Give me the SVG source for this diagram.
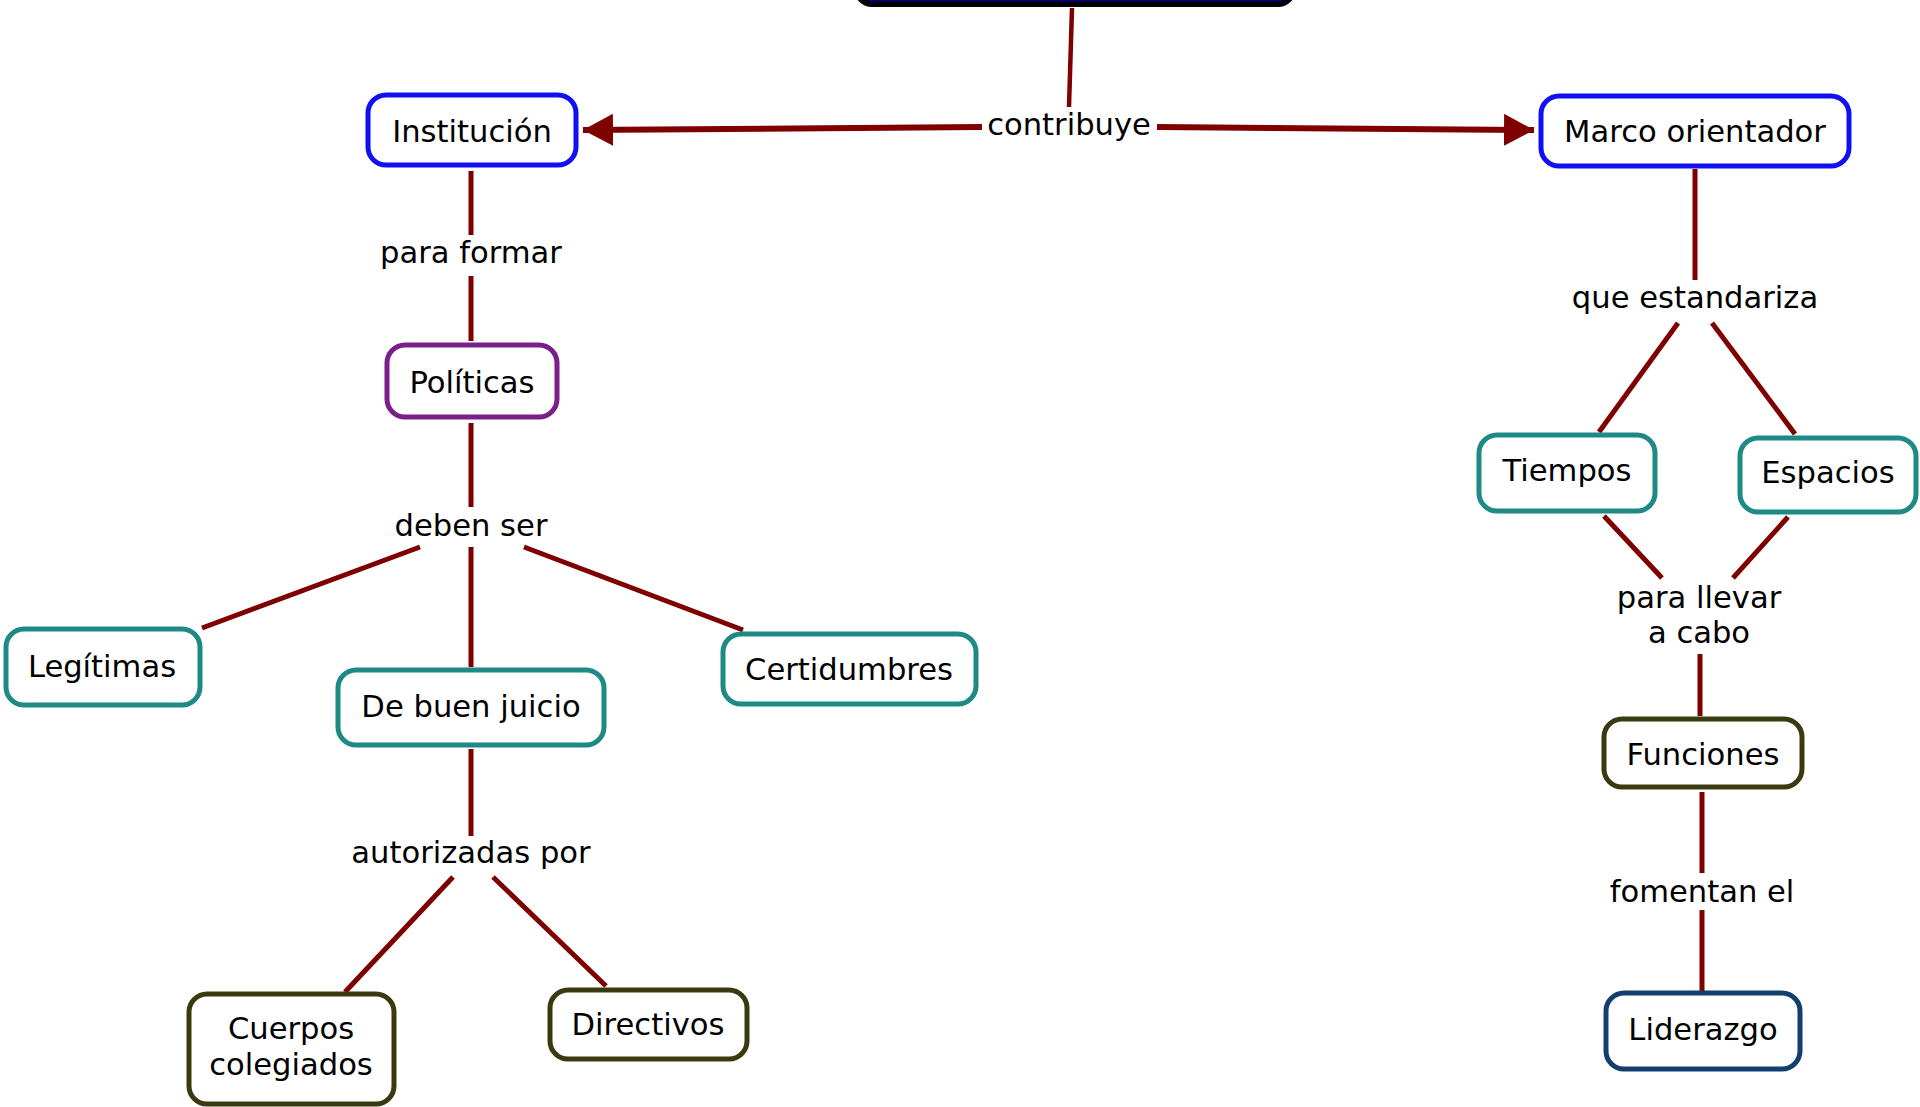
<svg xmlns="http://www.w3.org/2000/svg" width="1920" height="1107" viewBox="0 0 1920 1107">
<defs>
<style>
text{font-family:"DejaVu Sans","Verdana",sans-serif;font-size:30.6px;fill:#000;text-anchor:middle}
.c{stroke:#7f0000;stroke-width:5;fill:none}
.a{stroke:#7f0000;stroke-width:6;fill:none}
.n{fill:#fff;stroke-width:5}
.blue{stroke:#1010f0}
.purple{stroke:#7a1f8c}
.teal{stroke:#1d8a86}
.olive{stroke:#3a3a10}
.navy{stroke:#123f6e}
</style>
<marker id="arr" markerUnits="userSpaceOnUse" markerWidth="32" markerHeight="34" refX="30" refY="16" orient="auto">
<path d="M0,0 L30,16 L0,32 z" fill="#7f0000"/>
</marker>
</defs>
<rect width="1920" height="1107" fill="#fff"/>
<g id="connectors">
<line class="c" x1="1072" y1="8" x2="1069" y2="107" style="stroke-width:4.5"/>
<line class="a" x1="982" y1="127" x2="583" y2="130" marker-end="url(#arr)"/>
<line class="a" x1="1157" y1="127" x2="1534" y2="130" marker-end="url(#arr)"/>
<line class="c" x1="471" y1="171" x2="471" y2="235"/>
<line class="c" x1="471" y1="276" x2="471" y2="341"/>
<line class="c" x1="471" y1="423" x2="471" y2="507"/>
<line class="c" x1="420" y1="547" x2="202" y2="628"/>
<line class="c" x1="471" y1="547" x2="471" y2="667"/>
<line class="c" x1="524" y1="547" x2="743" y2="630"/>
<line class="c" x1="471" y1="749" x2="471" y2="836"/>
<line class="c" x1="453" y1="877" x2="345" y2="992"/>
<line class="c" x1="493" y1="877" x2="606" y2="986"/>
<line class="c" x1="1695" y1="169" x2="1695" y2="280"/>
<line class="c" x1="1678" y1="323" x2="1599" y2="432"/>
<line class="c" x1="1712" y1="323" x2="1795" y2="434"/>
<line class="c" x1="1604" y1="516" x2="1662" y2="578"/>
<line class="c" x1="1788" y1="517" x2="1733" y2="578"/>
<line class="c" x1="1700" y1="654" x2="1700" y2="716"/>
<line class="c" x1="1702" y1="792" x2="1702" y2="873"/>
<line class="c" x1="1702" y1="910" x2="1702" y2="991"/>
</g>
<g id="top-node">
<rect x="858" y="-70" width="434" height="73" rx="14" fill="#000080" stroke="#000" stroke-width="8"/>
<rect x="868" y="0" width="414" height="1.5" fill="#000080"/>
</g>
<g id="label-contribuye"><text x="1069" y="135">contribuye</text></g>
<g id="node-institucion">
<rect class="n blue" x="368" y="95" width="208" height="70" rx="18"/>
<text x="472" y="142">Institución</text>
</g>
<g id="node-marco">
<rect class="n blue" x="1541" y="96" width="308" height="70" rx="18"/>
<text x="1695" y="142">Marco orientador</text>
</g>
<g id="label-para-formar"><text x="471" y="263">para formar</text></g>
<g id="node-politicas">
<rect class="n purple" x="387" y="345" width="170" height="72" rx="18"/>
<text x="472" y="393">Políticas</text>
</g>
<g id="label-deben-ser"><text x="471" y="536">deben ser</text></g>
<g id="node-legitimas">
<rect class="n teal" x="6" y="629" width="194" height="76" rx="18"/>
<text x="102" y="677">Legítimas</text>
</g>
<g id="node-buen-juicio">
<rect class="n teal" x="338" y="670" width="266" height="75" rx="18"/>
<text x="471" y="717">De buen juicio</text>
</g>
<g id="node-certidumbres">
<rect class="n teal" x="723" y="634" width="253" height="70" rx="18"/>
<text x="849" y="680">Certidumbres</text>
</g>
<g id="label-autorizadas"><text x="471" y="863">autorizadas por</text></g>
<g id="node-cuerpos">
<rect class="n olive" x="189" y="994" width="205" height="110" rx="18"/>
<text x="291" y="1039">Cuerpos</text>
<text x="291" y="1075">colegiados</text>
</g>
<g id="node-directivos">
<rect class="n olive" x="550" y="990" width="197" height="69" rx="18"/>
<text x="648" y="1035">Directivos</text>
</g>
<g id="label-estandariza"><text x="1695" y="308">que estandariza</text></g>
<g id="node-tiempos">
<rect class="n teal" x="1479" y="435" width="176" height="76" rx="18"/>
<text x="1567" y="481">Tiempos</text>
</g>
<g id="node-espacios">
<rect class="n teal" x="1740" y="438" width="176" height="74" rx="18"/>
<text x="1828" y="483">Espacios</text>
</g>
<g id="label-para-llevar">
<text x="1699" y="608">para llevar</text>
<text x="1699" y="643">a cabo</text>
</g>
<g id="node-funciones">
<rect class="n olive" x="1604" y="719" width="198" height="68" rx="18"/>
<text x="1703" y="765">Funciones</text>
</g>
<g id="label-fomentan"><text x="1702" y="902">fomentan el</text></g>
<g id="node-liderazgo">
<rect class="n navy" x="1606" y="993" width="194" height="76" rx="18"/>
<text x="1703" y="1040">Liderazgo</text>
</g>
</svg>
